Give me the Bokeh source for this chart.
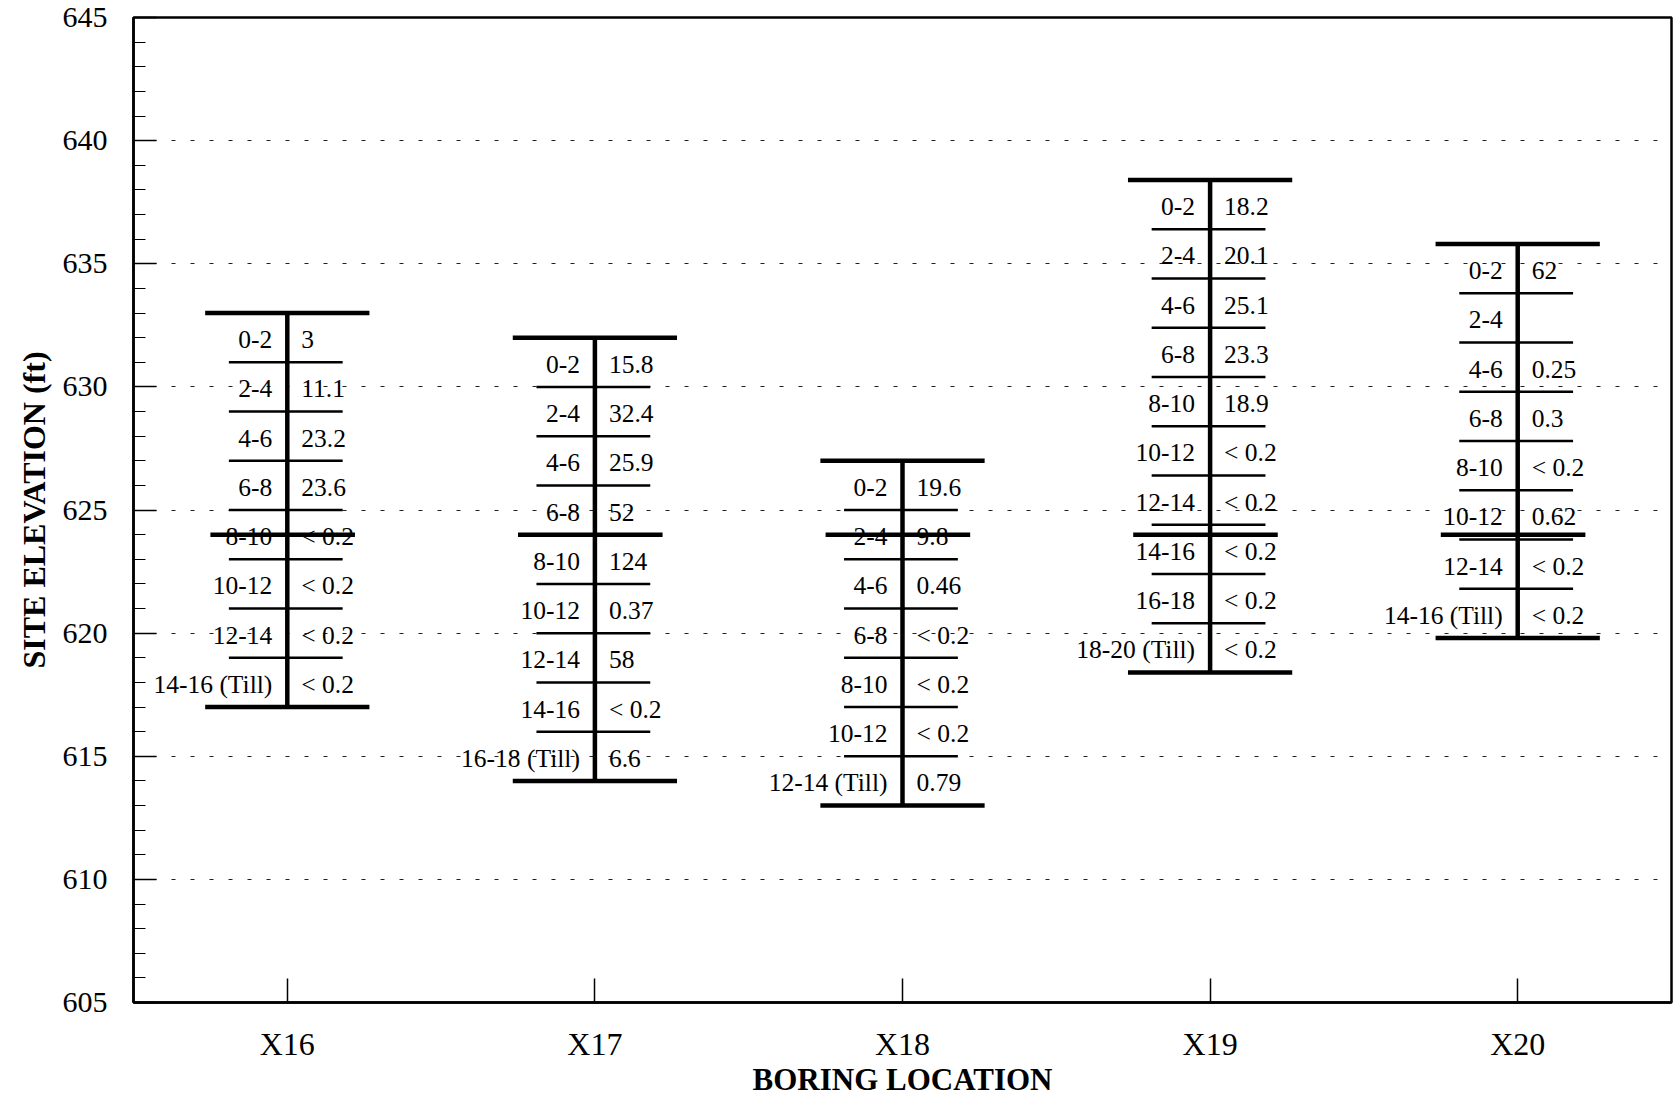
from bokeh.plotting import figure
from bokeh.models import Range1d, FixedTicker
from bokeh.core.properties import value
from bokeh.embed import file_html
from bokeh.resources import INLINE

# Boring locations and the ground-surface elevation (ft) at each one
borings = ["X16", "X17", "X18", "X19", "X20"]
top_elevation = [633.0, 632.0, 627.0, 638.4, 635.8]
reference_elevation = 624.0

# Sample depth intervals (ft below surface) and measured results per boring
x16_depths = ["0-2", "2-4", "4-6", "6-8", "8-10", "10-12", "12-14", "14-16 (Till)"]
x16_results = ["3", "11.1", "23.2", "23.6", "< 0.2", "< 0.2", "< 0.2", "< 0.2"]

x17_depths = ["0-2", "2-4", "4-6", "6-8", "8-10", "10-12", "12-14", "14-16", "16-18 (Till)"]
x17_results = ["15.8", "32.4", "25.9", "52", "124", "0.37", "58", "< 0.2", "6.6"]

x18_depths = ["0-2", "2-4", "4-6", "6-8", "8-10", "10-12", "12-14 (Till)"]
x18_results = ["19.6", "9.8", "0.46", "< 0.2", "< 0.2", "< 0.2", "0.79"]

x19_depths = ["0-2", "2-4", "4-6", "6-8", "8-10", "10-12", "12-14", "14-16", "16-18", "18-20 (Till)"]
x19_results = ["18.2", "20.1", "25.1", "23.3", "18.9", "< 0.2", "< 0.2", "< 0.2", "< 0.2", "< 0.2"]

x20_depths = ["0-2", "2-4", "4-6", "6-8", "8-10", "10-12", "12-14", "14-16 (Till)"]
x20_results = ["62", "", "0.25", "0.3", "< 0.2", "0.62", "< 0.2", "< 0.2"]

depth_sets = [x16_depths, x17_depths, x18_depths, x19_depths, x20_depths]
result_sets = [x16_results, x17_results, x18_results, x19_results, x20_results]

FONT = "Liberation Serif"

p = figure(width=1673, height=1099,
           x_range=Range1d(0.5, 5.5), y_range=Range1d(605, 645),
           output_backend="svg", toolbar_location=None,
           min_border_left=133, min_border_right=2,
           min_border_top=17, min_border_bottom=96)
p.background_fill_color = "white"
p.border_fill_color = "white"
p.outline_line_color = "black"
p.outline_line_width = 2.5

# Build the column geometry from the depth intervals
cap_x0, cap_x1, cap_y = [], [], []
int_x0, int_x1, int_y = [], [], []
ref_x0, ref_x1 = [], []
col_x, col_y0, col_y1 = [], [], []
lab_x, lab_y, lab_t = [], [], []
res_x, res_y, res_t = [], [], []

for i, (top, depths, results) in enumerate(zip(top_elevation, depth_sets, result_sets)):
    xc = i + 1
    bounds = []
    for d, r in zip(depths, results):
        a, b = d.split()[0].split("-")
        a, b = float(a), float(b)
        bounds.append(b)
        mid = top - (a + b) / 2.0
        lab_x.append(xc); lab_y.append(mid); lab_t.append(d)
        res_x.append(xc); res_y.append(mid); res_t.append(r)
    bottom = top - bounds[-1]
    col_x.append(xc); col_y0.append(top); col_y1.append(bottom)
    for yy in (top, bottom):
        cap_x0.append(xc - 0.267); cap_x1.append(xc + 0.267); cap_y.append(yy)
    for b in bounds[:-1]:
        int_x0.append(xc - 0.19); int_x1.append(xc + 0.18); int_y.append(top - b)
    ref_x0.append(xc - 0.25); ref_x1.append(xc + 0.22)

p.segment(x0=int_x0, y0=int_y, x1=int_x1, y1=int_y, line_color="black", line_width=2.5)
p.segment(x0=ref_x0, y0=[reference_elevation] * 5, x1=ref_x1, y1=[reference_elevation] * 5,
          line_color="black", line_width=4.5)
p.segment(x0=cap_x0, y0=cap_y, x1=cap_x1, y1=cap_y, line_color="black", line_width=4.5)
p.segment(x0=col_x, y0=col_y0, x1=col_x, y1=col_y1, line_color="black", line_width=4.5)

p.text(x=lab_x, y=lab_y, text=lab_t, text_align="right", text_baseline="middle",
       x_offset=-15, y_offset=2, text_font=value(FONT), text_font_size="25.5px", text_color="black")
p.text(x=res_x, y=res_y, text=res_t, text_align="left", text_baseline="middle",
       x_offset=14, y_offset=2, text_font=value(FONT), text_font_size="25.5px", text_color="black")

# Axes
p.yaxis.ticker = FixedTicker(ticks=list(range(605, 646, 5)),
                             minor_ticks=[v for v in range(606, 645) if v % 5])
p.yaxis.axis_label = "SITE ELEVATION (ft)"
p.xaxis.ticker = FixedTicker(ticks=[1, 2, 3, 4, 5])
p.xaxis.major_label_overrides = {i + 1: b for i, b in enumerate(borings)}
p.xaxis.axis_label = "BORING LOCATION"
p.xaxis.minor_tick_line_color = None

for ax in (p.xaxis[0], p.yaxis[0]):
    ax.axis_line_color = "black"
    ax.axis_line_width = 2.5
    ax.major_tick_line_color = "black"
    ax.major_tick_line_width = 1.5
    ax.major_tick_out = 0
    ax.minor_tick_out = 0
    ax.major_label_text_font = FONT
    ax.major_label_text_color = "black"
    ax.axis_label_text_font = FONT
    ax.axis_label_text_font_style = "bold"
    ax.axis_label_text_color = "black"

p.yaxis.major_label_text_font_size = "30px"
p.yaxis.axis_label_text_font_size = "32px"
p.xaxis.major_label_text_font_size = "32px"
p.xaxis.axis_label_text_font_size = "31px"

p.yaxis.major_tick_in = 23
p.yaxis.minor_tick_in = 12
p.yaxis.minor_tick_line_color = "black"
p.yaxis.minor_tick_line_width = 1.2
p.yaxis.major_label_standoff = 26
p.yaxis.axis_label_standoff = 8

p.xaxis.major_tick_in = 24
p.xaxis.major_label_standoff = 23
p.xaxis.axis_label_standoff = -3

p.xgrid.visible = False
p.ygrid.ticker = FixedTicker(ticks=list(range(610, 641, 5)))
p.ygrid.grid_line_color = "#222222"
p.ygrid.grid_line_width = 1.2
p.ygrid.grid_line_dash = "4 15"

open("out.html", "w").write(file_html(p, INLINE))
